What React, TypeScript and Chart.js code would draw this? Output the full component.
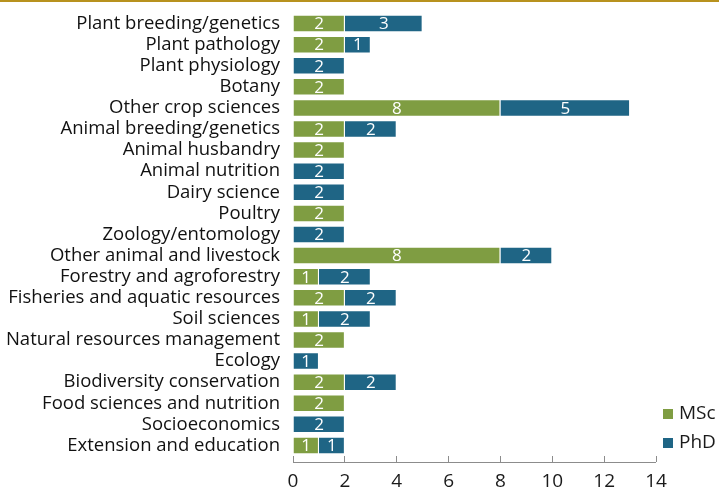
import React, { useEffect, useRef } from "react";
import { Chart, registerables } from "chart.js";

Chart.register(...registerables);

const categories = [
  "Plant breeding/genetics",
  "Plant pathology",
  "Plant physiology",
  "Botany",
  "Other crop sciences",
  "Animal breeding/genetics",
  "Animal husbandry",
  "Animal nutrition",
  "Dairy science",
  "Poultry",
  "Zoology/entomology",
  "Other animal and livestock",
  "Forestry and agroforestry",
  "Fisheries and aquatic resources",
  "Soil sciences",
  "Natural resources management",
  "Ecology",
  "Biodiversity conservation",
  "Food sciences and nutrition",
  "Socioeconomics",
  "Extension and education",
];

const mscValues = [2, 2, 0, 2, 8, 2, 2, 0, 0, 2, 0, 8, 1, 2, 1, 2, 0, 2, 2, 0, 1];
const phdValues = [3, 1, 2, 0, 5, 2, 0, 2, 2, 0, 2, 2, 2, 2, 2, 0, 1, 2, 0, 2, 1];

const xTicks = [0, 2, 4, 6, 8, 10, 12, 14];
const seriesNames = ["MSc", "PhD"];
const seriesColors = ["#7f9d42", "#1f6585"];

const FONT = "'Open Sans', Lato, sans-serif";

const decorPlugin = {
  id: "decor",
  afterDatasetsDraw(chart: any) {
    const ctx = chart.ctx;
    ctx.save();
    ctx.fillStyle = "#ffffff";
    ctx.font = `17px ${FONT}`;
    ctx.textAlign = "center";
    ctx.textBaseline = "middle";
    chart.data.datasets.forEach((ds: any, di: number) => {
      const meta = chart.getDatasetMeta(di);
      meta.data.forEach((el: any, i: number) => {
        const v = ds.data[i];
        if (!v) return;
        const cx = (el.x + el.base) / 2;
        ctx.fillText(String(v), cx, el.y + 1);
      });
    });
    ctx.restore();
  },
  afterDraw(chart: any) {
    const ctx = chart.ctx;
    const area = chart.chartArea;
    const xs = chart.scales.x;
    ctx.save();
    ctx.fillStyle = "#b8921e";
    ctx.fillRect(0, 0, chart.width, 2);
    ctx.strokeStyle = "#8c8c8c";
    ctx.lineWidth = 1;
    const y = Math.round(area.bottom + 6) + 0.5;
    ctx.beginPath();
    ctx.moveTo(xs.getPixelForValue(0), y);
    ctx.lineTo(xs.getPixelForValue(14), y);
    ctx.stroke();
    ctx.font = `19px ${FONT}`;
    ctx.textAlign = "left";
    ctx.textBaseline = "middle";
    const ys = [414, 443];
    seriesNames.forEach((n, i) => {
      ctx.fillStyle = seriesColors[i];
      ctx.fillRect(663, ys[i] - 5, 10, 10);
      ctx.fillStyle = "#1a1a1a";
      ctx.fillText(n, 679, ys[i]);
    });
    ctx.restore();
  },
};

export default function App() {
  const ref = useRef<HTMLCanvasElement>(null);
  useEffect(() => {
    if (!ref.current) return;
    const chart = new Chart(ref.current, {
      type: "bar",
      data: {
        labels: categories,
        datasets: [
          {
            label: seriesNames[0],
            data: mscValues,
            backgroundColor: seriesColors[0],
            borderColor: "rgba(255,255,255,0.7)",
            borderWidth: 1,
            barPercentage: 0.83,
            categoryPercentage: 1,
          },
          {
            label: seriesNames[1],
            data: phdValues,
            backgroundColor: seriesColors[1],
            borderColor: "rgba(255,255,255,0.7)",
            borderWidth: 1,
            barPercentage: 0.83,
            categoryPercentage: 1,
          },
        ],
      },
      options: {
        indexAxis: "y",
        animation: false,
        responsive: false,
        maintainAspectRatio: false,
        layout: { padding: { top: 13, right: 63, left: 0, bottom: 0 } },
        plugins: { legend: { display: false }, tooltip: { enabled: false } },
        scales: {
          x: {
            stacked: true,
            min: 0,
            max: 14,
            afterBuildTicks: (s: any) => {
              s.ticks = xTicks.map((v) => ({ value: v }));
            },
            grid: {
              drawOnChartArea: false,
              drawTicks: true,
              tickLength: 6,
              color: "#8c8c8c",
            },
            border: { display: false },
            ticks: {
              font: { family: FONT, size: 19 },
              color: "#1a1a1a",
              padding: 8,
            },
            afterFit: (s: any) => {
              s.height = 491 - 456;
              s.paddingLeft = 0;
              s.paddingRight = 0;
            },
          },
          y: {
            stacked: true,
            grid: { display: false },
            border: { display: false },
            ticks: {
              font: { family: FONT, size: 18.5 },
              color: "#111111",
              padding: 5,
              autoSkip: false,
            },
            afterFit: (s: any) => {
              s.width = 293;
              s.paddingTop = 0;
              s.paddingBottom = 0;
            },
          },
        },
      },
      plugins: [decorPlugin],
    });
    return () => chart.destroy();
  }, []);
  return (
    <div style={{ position: "fixed", left: 0, top: 0, width: 719, height: 491, background: "#fff" }}>
      <canvas ref={ref} width={719} height={491} style={{ width: 719, height: 491 }} />
    </div>
  );
}
